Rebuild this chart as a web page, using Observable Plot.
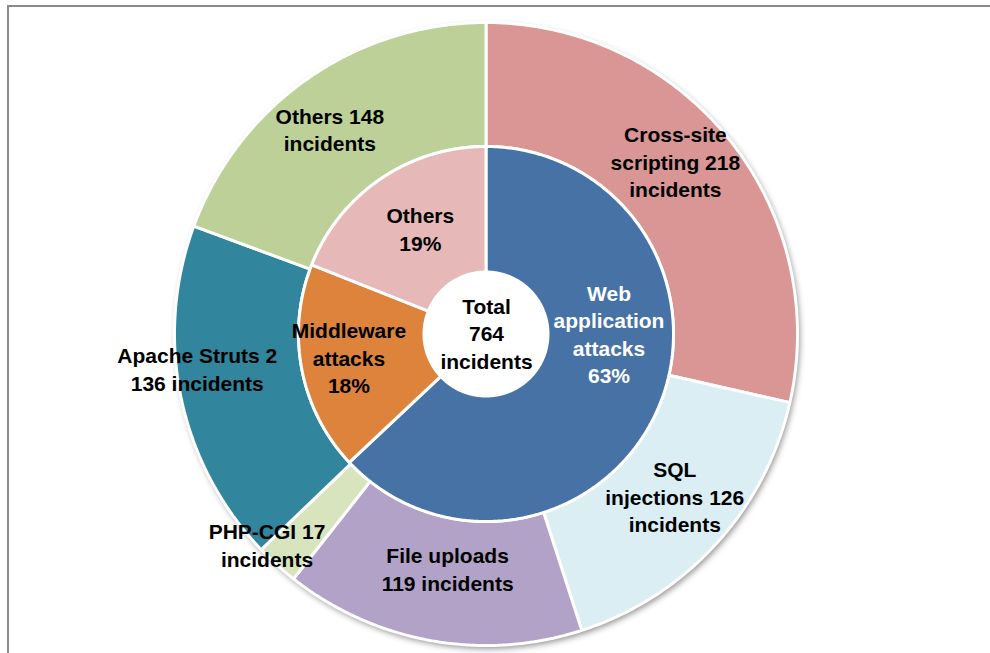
<!DOCTYPE html>
<html><head><meta charset="utf-8">
<script src="https://cdn.jsdelivr.net/npm/d3@7"></script>
<script src="https://cdn.jsdelivr.net/npm/@observablehq/plot@0.6"></script>
<style>
html,body{margin:0;padding:0;background:#fff;width:990px;height:653px;overflow:hidden;}
#chart{position:absolute;left:0;top:0;}
#frame{position:absolute;left:7px;top:5px;width:1100px;height:800px;border-left:2px solid #8a8a8a;border-top:2px solid #8a8a8a;pointer-events:none;}
</style></head><body>
<div id="chart"></div><div id="frame"></div>
<script>
// ---- data ----
const outerCategories = ["Cross-site scripting", "SQL injections", "File uploads", "PHP-CGI", "Apache Struts 2", "Others"];
const outerValues = [218, 126, 119, 17, 136, 148];
const outerLabels = ["Cross-site\nscripting 218\nincidents", "SQL\ninjections 126\nincidents", "File uploads\n119 incidents", "PHP-CGI 17\nincidents", "Apache Struts 2\n136 incidents", "Others 148\nincidents"];
const innerCategories = ["Web application attacks", "Middleware attacks", "Others"];
const innerPercents = [63, 18, 19];
const innerLabels = ["Web\napplication\nattacks\n63%", "Middleware\nattacks\n18%", "Others\n19%"];
const totalLabel = "Total\n764\nincidents";

// ---- styling ----
const outerColors = ["#D99694", "#DBEEF4", "#B3A2C7", "#D7E4BD", "#31859C", "#BDD097"];
const innerColors = ["#4672A6", "#DD833C", "#E6B9B8"];
const R = 311.5, CX = 486, CY = 334;
const rOuter = 1, rMid = 187.5 / R, rHole = 62 / R;
const outerNudge = [[-6, -18], [4, -7], [5, -12], [-52, 25], [-45, -17], [-14, -1]];
const innerNudge = [[8, -51], [-15, -1], [4, -3]];

function ring(cats, vals, prefix, r0, r1) {
  const total = d3.sum(vals);
  let acc = 0;
  const pts = [], cents = [];
  cats.forEach((c, i) => {
    const a0 = acc / total * 2 * Math.PI;
    acc += vals[i];
    const a1 = acc / total * 2 * Math.PI;
    const n = Math.max(2, Math.ceil((a1 - a0) / (Math.PI / 360)));
    for (let k = 0; k <= n; k++) {
      const t = a0 + (a1 - a0) * k / n;
      pts.push({key: prefix + c, x1: r1 * Math.sin(t), y1: r1 * Math.cos(t), x2: r0 * Math.sin(t), y2: r0 * Math.cos(t)});
    }
    const tm = (a0 + a1) / 2, rm = (r0 + r1) / 2;
    cents.push({i, x: rm * Math.sin(tm), y: rm * Math.cos(tm)});
  });
  return {pts, cents};
}

const outer = ring(outerCategories, outerValues, "o:", rMid, rOuter);
const inner = ring(innerCategories, innerPercents, "i:", rHole, rMid);
const disk = ring(["disk"], [1], "d:", 0, rOuter);

const font = "Arial, 'Liberation Sans', Helvetica, sans-serif";
const textOpts = {fontSize: 21, fontWeight: "bold", fontFamily: font, lineHeight: 1.31, textAnchor: "middle"};

const labelMarks = [];
outer.cents.forEach(c => {
  labelMarks.push(Plot.text([c], {x: "x", y: "y", text: () => outerLabels[c.i], fill: "#000", dx: outerNudge[c.i][0], dy: outerNudge[c.i][1], ...textOpts}));
});
inner.cents.forEach(c => {
  labelMarks.push(Plot.text([c], {x: "x", y: "y", text: () => innerLabels[c.i], fill: c.i === 0 ? "#fff" : "#000", dx: innerNudge[c.i][0], dy: innerNudge[c.i][1], ...textOpts}));
});
labelMarks.push(Plot.text([{x: 0, y: 0}], {x: "x", y: "y", text: () => totalLabel, fill: "#000", dy: -2, ...textOpts}));

const keys = [...outerCategories.map(c => "o:" + c), ...innerCategories.map(c => "i:" + c), "d:disk"];
const colors = [...outerColors, ...innerColors, "#ffffff"];

const chart = Plot.plot({
  width: 990, height: 653,
  marginLeft: CX - R, marginRight: 990 - (CX + R),
  marginTop: CY - R, marginBottom: 653 - (CY + R),
  x: {domain: [-1, 1], axis: null},
  y: {domain: [-1, 1], axis: null},
  color: {type: "ordinal", domain: keys, range: colors},
  style: {background: "transparent"},
  marks: [
    Plot.area(disk.pts, {x1: "x1", y1: "y1", x2: "x2", y2: "y2", z: "key", fill: "key", curve: "linear"}),
    Plot.area(outer.pts, {x1: "x1", y1: "y1", x2: "x2", y2: "y2", z: "key", fill: "key", stroke: "#fff", strokeWidth: 3, strokeLinejoin: "miter", curve: "linear"}),
    Plot.area(inner.pts, {x1: "x1", y1: "y1", x2: "x2", y2: "y2", z: "key", fill: "key", stroke: "#fff", strokeWidth: 3, strokeLinejoin: "miter", curve: "linear"}),
    ...labelMarks
  ]
});
const areas = chart.querySelectorAll('g[aria-label="area"]');
if (areas[0]) areas[0].style.filter = "drop-shadow(2px 3px 3px rgba(0,0,0,0.45))";
document.getElementById("chart").appendChild(chart);
</script>
</body></html>
